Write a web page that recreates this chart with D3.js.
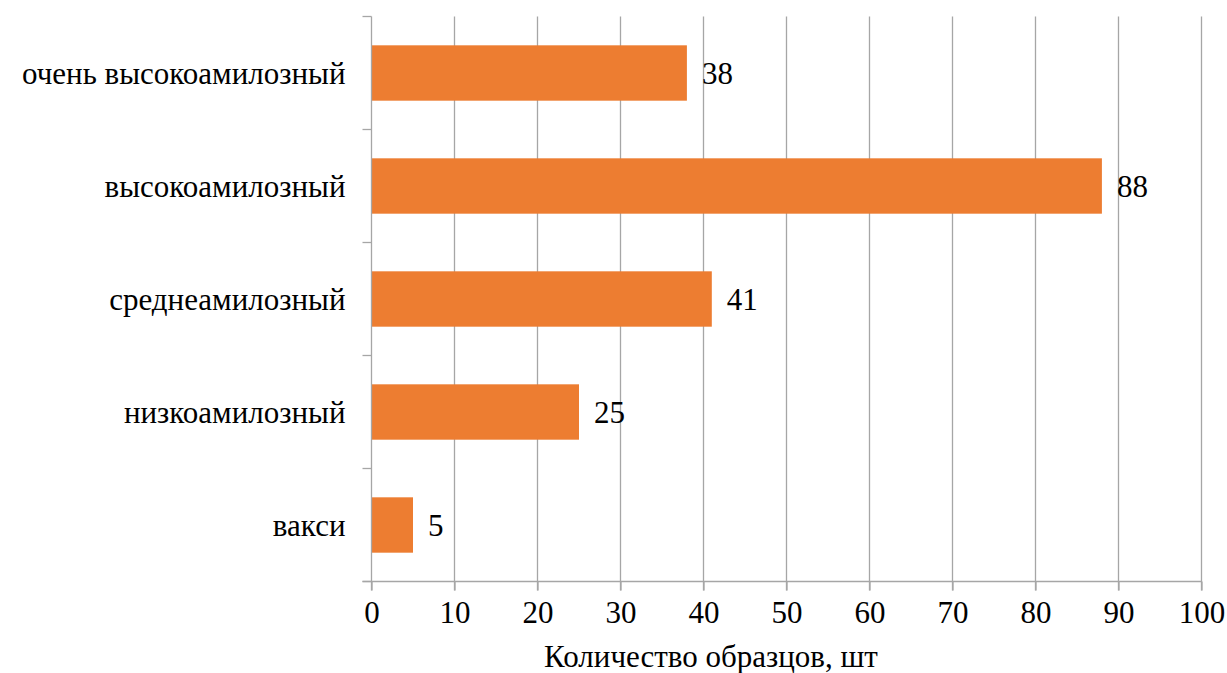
<!DOCTYPE html>
<html>
<head>
<meta charset="utf-8">
<script src="https://cdn.jsdelivr.net/npm/d3@7"></script>
<style>
  body { margin: 0; background: #fff; }
</style>
</head>
<body>
<svg id="chart" width="1227" height="673" font-family="Liberation Serif"></svg>
<script>
// ── Data ────────────────────────────────────────────────────────────────────
const categories = ['очень высокоамилозный', 'высокоамилозный', 'среднеамилозный', 'низкоамилозный', 'вакси'];
const counts     = [38, 88, 41, 25, 5];
const xTicks     = [0, 10, 20, 30, 40, 50, 60, 70, 80, 90, 100];
const xTitle     = 'Количество образцов, шт';

const FONT = 'Liberation Serif';
const FS = 31;

const svg = d3.select('#chart');
const m = { left: 371.5, right: 1227 - 1201.5, top: 16.5, bottom: 673 - 581.5 };
const W = 1227 - m.left - m.right;
const H = 673 - m.top - m.bottom;

const g = svg.append('g').attr('transform', `translate(${m.left},${m.top})`);

const x = d3.scaleLinear().domain([0, 100]).range([0, W]);
const y = d3.scaleBand().domain(categories).range([0, H]).paddingInner(0.51).paddingOuter(0.255);

const gridCol = '#a6a6a6';

// ── Gridlines ───────────────────────────────────────────────────────────────
g.selectAll('line.grid').data(xTicks.slice(1)).join('line')
  .attr('class', 'grid')
  .attr('x1', d => x(d)).attr('x2', d => x(d))
  .attr('y1', 0).attr('y2', H + 9)
  .attr('stroke', gridCol).attr('stroke-width', 1.3);

// ── Bars ────────────────────────────────────────────────────────────────────
const rows = categories.map((c, i) => ({ c, v: counts[i] }));
g.selectAll('rect.bar').data(rows).join('rect')
  .attr('class', 'bar')
  .attr('x', 0)
  .attr('y', d => y(d.c))
  .attr('width', d => x(d.v))
  .attr('height', y.bandwidth())
  .attr('fill', '#ed7d31');

g.selectAll('text.val').data(rows).join('text')
  .attr('class', 'val')
  .attr('x', d => x(d.v) + 15)
  .attr('y', d => y(d.c) + y.bandwidth() / 2)
  .attr('dy', '0.35em')
  .attr('font-family', FONT)
  .attr('font-size', FS)
  .text(d => d.v);

// ── Axes ────────────────────────────────────────────────────────────────────
const xAxis = g.append('g').attr('transform', `translate(0,${H})`)
  .call(d3.axisBottom(x).tickValues(xTicks).tickSize(9).tickPadding(10))
  .attr('font-family', FONT).attr('font-size', FS);
xAxis.select('.domain').remove();
xAxis.selectAll('line').attr('stroke', gridCol).attr('stroke-width', 1.3);
xAxis.selectAll('text')
  .attr('font-family', FONT)
  .attr('font-size', FS)
  .attr('fill', '#000');

g.append('line')
  .attr('x1', -9).attr('x2', W).attr('y1', H).attr('y2', H)
  .attr('stroke', gridCol).attr('stroke-width', 1.3);

// left axis with ticks at band boundaries
const bounds = d3.range(categories.length + 1).map(i => i * H / categories.length);
g.append('line')
  .attr('x1', 0).attr('x2', 0).attr('y1', 0).attr('y2', H + 9)
  .attr('stroke', gridCol).attr('stroke-width', 1.3);
g.selectAll('line.ytick').data(bounds).join('line')
  .attr('class', 'ytick')
  .attr('x1', -9).attr('x2', 0)
  .attr('y1', d => d).attr('y2', d => d)
  .attr('stroke', gridCol).attr('stroke-width', 1.3);

g.selectAll('text.cat').data(categories).join('text')
  .attr('class', 'cat')
  .attr('x', -26)
  .attr('y', d => y(d) + y.bandwidth() / 2)
  .attr('dy', '0.35em')
  .attr('text-anchor', 'end')
  .attr('font-family', FONT)
  .attr('font-size', FS)
  .text(d => d);

svg.append('text')
  .attr('x', 711)
  .attr('y', 667)
  .attr('text-anchor', 'middle')
  .attr('font-family', FONT)
  .attr('font-size', FS)
  .text(xTitle);
</script>
</body>
</html>
